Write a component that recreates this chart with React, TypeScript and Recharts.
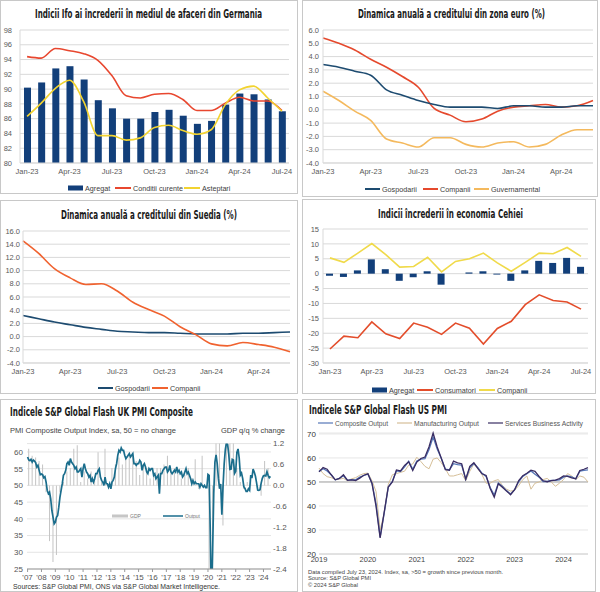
import React from 'react';
import { ComposedChart, LineChart, Line, Bar, XAxis, YAxis, CartesianGrid, ReferenceLine } from 'recharts';

// ---------- Panel 1: Ifo Germany ----------
const ifoMonths = ['Jan-23','Feb-23','Mar-23','Apr-23','May-23','Jun-23','Jul-23','Aug-23','Sep-23','Oct-23','Nov-23','Dec-23','Jan-24','Feb-24','Mar-24','Apr-24','May-24','Jun-24','Jul-24'];
const ifoAgregat = [90.2,90.9,92.8,93.1,91.3,88.5,87.4,86.0,86.0,86.9,87.2,86.4,85.3,85.7,87.9,89.4,89.3,88.6,87.0];
const ifoConditii = [94.4,94.2,95.5,95.2,94.8,93.9,91.8,89.1,88.8,89.3,89.4,88.6,87.1,87.1,88.1,88.9,88.4,88.4,87.1];
const ifoAsteptari = [86.3,88.1,90.1,91.2,88.3,83.7,83.7,83.1,83.4,84.8,85.1,84.4,83.9,84.5,87.9,89.9,90.4,88.8,87.0];

// ---------- Panel 2: Euro area credit ----------
const creditMonths = ['Jan-23','Feb-23','Mar-23','Apr-23','May-23','Jun-23','Jul-23','Aug-23','Sep-23','Oct-23','Nov-23','Dec-23','Jan-24','Feb-24','Mar-24','Apr-24','May-24','Jun-24'];
const euroGospodarii = [3.4,3.2,2.9,2.6,1.5,1.1,0.7,0.4,0.2,0.2,0.2,0.1,0.3,0.3,0.2,0.2,0.3,0.3];
const euroCompanii = [5.4,5.0,4.5,3.8,3.2,2.5,1.7,0.1,-0.4,-0.9,-0.7,-0.1,0.2,0.3,0.4,0.2,0.3,0.7];
const euroGuvernamental = [1.4,0.7,-0.1,-0.8,-2.2,-2.5,-2.8,-2.1,-2.1,-2.6,-2.8,-2.5,-2.4,-2.8,-2.6,-1.9,-1.5,-1.5];

// ---------- Panel 3: Sweden credit ----------
const seGospodarii = [3.2,2.7,2.2,1.8,1.4,1.1,0.8,0.7,0.6,0.6,0.5,0.4,0.4,0.4,0.5,0.5,0.6,0.7];
const seCompanii = [14.5,12.6,10.3,8.9,7.9,8.0,6.9,5.2,4.1,3.1,1.5,0.3,-1.1,-1.4,-0.9,-1.2,-1.6,-2.3];

// ---------- Panel 4: Czech confidence ----------
const czMonths = ['Jan-23','Feb-23','Mar-23','Apr-23','May-23','Jun-23','Jul-23','Aug-23','Sep-23','Oct-23','Nov-23','Dec-23','Jan-24','Feb-24','Mar-24','Apr-24','May-24','Jun-24','Jul-24'];
const czAgregat = [-0.7,-1.1,1.1,4.8,1.5,-2.4,-1.2,0.8,-3.7,0,0.4,0.8,-0.3,-2.4,1.1,4.3,3.6,5.3,2.3];
const czConsumatori = [-25.3,-21.0,-21.5,-16.2,-20.2,-21.8,-16.6,-18.0,-20.4,-16.6,-18.3,-23.6,-18.4,-16.0,-10.4,-7.1,-9.0,-9.5,-11.9];
const czCompanii = [5.3,3.8,6.9,10.1,6.4,2.2,2.4,5.5,0.6,4.1,5.0,6.9,3.6,0.8,3.8,6.9,6.7,8.8,5.8];

// ---------- Panel 5: UK PMI composite (monthly Jan-07..Jul-24) & GDP (quarterly) ----------
const ukYearLabels = ["'07","'08","'09","'10","'11","'12","'13","'14","'15","'16","'17","'18","'19","'20","'21","'22","'23","'24"];
const ukPmi = [
  58.5,57.6,57.4,57.8,57.0,57.6,57.3,56.8,55.5,56.0,54.5,53.2,
  53.4,53.2,52.3,52.6,51.0,48.5,47.5,48.0,46.0,42.5,40.5,38.5,
  39.0,40.5,41.0,43.5,46.5,48.5,50.5,53.0,53.5,54.5,56.5,57.0,
  56.0,58.0,57.0,56.5,56.0,55.0,55.5,54.0,54.0,54.5,55.0,52.5,
  55.0,56.5,55.0,54.0,53.5,52.5,53.0,51.0,52.0,51.0,52.0,53.5,
  53.5,54.5,55.0,52.5,51.5,51.0,50.0,52.5,50.5,50.5,49.5,50.5,
  49.0,51.0,51.5,52.5,55.0,56.5,59.0,60.5,60.0,61.2,60.5,60.5,
  59.0,58.0,58.5,59.0,59.5,58.5,59.0,59.5,56.5,56.5,56.0,56.5,
  56.5,57.5,57.0,54.5,56.0,56.5,55.5,54.0,53.5,55.0,54.5,55.0,
  55.0,53.0,53.5,52.0,52.5,53.0,47.5,53.5,53.5,54.5,55.0,55.5,
  55.5,54.0,54.5,56.0,54.0,53.5,54.0,54.5,54.0,55.5,54.0,54.5,
  53.5,54.0,52.5,53.0,54.0,55.0,53.5,54.0,53.0,52.0,50.5,51.5,
  50.5,51.0,50.5,50.5,50.5,49.5,50.5,50.0,49.5,50.0,49.3,49.3,
  53.3,53.0,36.0,13.8,30.0,47.7,57.0,59.1,56.5,52.1,49.0,50.4,
  41.2,49.6,56.4,60.7,62.9,62.2,59.2,54.8,54.9,57.8,57.6,53.6,
  54.2,59.9,60.9,58.2,53.1,53.7,52.1,49.6,49.1,48.2,48.2,49.0,
  48.5,53.1,52.2,54.9,54.0,52.8,50.8,48.6,48.5,48.7,50.7,52.1,
  52.9,53.0,52.8,54.1,53.0,52.3,52.7
];
const ukGdp = [
  1.05,0.85,0.8,0.7,
  0.6,-0.2,-1.6,-2.2,
  -2.0,-0.2,0.1,0.4,
  0.5,1.05,1.15,0.1,
  0.4,0.2,0.4,0.2,
  0.95,0.1,1.05,-0.1,
  0.5,0.6,0.8,0.6,
  0.8,0.9,0.85,0.7,
  0.3,0.6,0.5,0.2,
  0.3,0.5,0.5,0.6,
  0.85,0.4,0.5,0.4,
  0.2,0.3,0.5,0.2,
  0.75,-0.1,0.85,0.0,
  -2.6,-20.3,16.9,1.3,
  -1.15,7.1,1.7,1.5,
  0.5,0.1,-0.1,0.1,
  0.3,0.0,-0.1,-0.3,
  0.7,0.5
];

// ---------- Panel 6: US flash PMI (monthly Jan-19..Jul-24) ----------
const usYearLabels = ['2019','2020','2021','2022','2023','2024'];
const usTicks = [20, 30, 40, 50, 60, 70];
const usComposite = [
  54.4,55.5,54.6,53.0,50.9,51.5,52.6,50.7,51.0,50.9,52.0,52.7,
  53.3,49.6,40.9,27.0,37.0,47.9,50.3,54.6,54.3,56.3,58.6,55.3,
  58.7,59.5,59.7,63.5,68.7,63.7,59.9,55.4,55.0,57.6,57.2,57.0,
  51.1,55.9,57.7,56.0,53.6,52.3,47.7,44.6,49.5,48.2,46.4,45.0,
  46.8,50.1,52.3,53.4,54.6,53.2,52.0,50.2,50.2,50.7,50.7,50.9,
  52.0,52.5,52.1,51.3,54.5,54.8,55.0
];
const usManufacturing = [
  55.8,53.5,52.2,51.8,51.0,51.2,51.5,50.5,51.3,51.8,52.8,53.5,
  53.7,50.5,46.0,30.0,37.0,49.0,53.0,53.5,54.0,54.5,57.0,57.5,
  60.3,58.5,56.5,55.5,59.5,60.0,58.0,55.5,52.5,52.5,53.0,53.5,
  50.5,54.5,57.5,55.5,53.0,49.5,49.5,50.5,51.0,48.5,47.0,46.2,
  46.5,48.5,51.0,52.5,47.0,49.5,50.0,51.0,51.5,50.0,48.2,49.5,
  51.0,53.5,52.5,51.0,52.5,52.0,50.0
];
const usServices = [
  54.2,56.0,55.3,53.0,50.9,51.5,53.0,50.7,50.9,50.6,51.6,52.8,
  53.4,49.4,39.8,26.7,37.5,47.9,50.0,55.0,54.6,56.9,58.4,54.8,
  58.3,59.8,60.4,64.7,70.4,64.6,59.9,55.1,54.9,58.7,58.0,57.6,
  51.2,56.5,58.0,55.6,53.4,52.7,47.3,43.7,49.3,47.8,46.2,44.7,
  46.8,50.6,52.6,53.6,54.9,54.4,52.3,50.5,50.1,50.6,50.8,51.4,
  52.5,52.3,51.7,51.3,54.8,55.3,56.0
];

// ---------- tables ----------
const ifoData = ifoMonths.map((m, i) => ({ m, agregat: ifoAgregat[i], cond: ifoConditii[i], ast: ifoAsteptari[i] }));
const euroData = creditMonths.map((m, i) => ({ m, g: euroGospodarii[i], c: euroCompanii[i], v: euroGuvernamental[i] }));
const seData = creditMonths.map((m, i) => ({ m, g: seGospodarii[i], c: seCompanii[i] }));
const czData = czMonths.map((m, i) => ({ m, a: czAgregat[i], cons: czConsumatori[i], comp: czCompanii[i] }));
const ukData = ukPmi.map((p, i) => ({ i, pmi: p, gdp: i % 3 === 1 ? ukGdp[(i - 1) / 3] : null }));
const usData = usComposite.map((c, i) => ({ i, c, mf: usManufacturing[i], s: usServices[i] }));

const SANS = "'Liberation Sans', Arial, sans-serif";
const NARROW = "'Liberation Sans Narrow', 'DejaVu Sans Condensed', 'Arial Narrow', sans-serif";
const tickX = { fontSize: 7.5, fill: '#595959', fontFamily: SANS };
const tickUK = { fontSize: 8, fill: '#555', fontFamily: SANS };
const tickUSx = { fontSize: 7.5, fill: '#444', fontFamily: SANS };
const tickUSy = { fontSize: 8, fill: '#333', fontFamily: SANS };
const grid = '#d9d9d9';

const abs = (left: number, top: number, z = 1): React.CSSProperties => ({ position: 'absolute', left, top, zIndex: z });

function Title({ x, y, w, text }: { x: number; y: number; w: number; text: string }) {
  return (
    <text x={x} y={y} textLength={w} lengthAdjust="spacingAndGlyphs" fontFamily={NARROW} fontWeight="bold" fontSize={11.5} fill="#1a1a1a">
      {text}
    </text>
  );
}

function Lbl({ x, y, text, size = 7.2, fill = '#404040', w, anchor }: { x: number; y: number; text: string; size?: number; fill?: string; w?: number; anchor?: string }) {
  const extra: any = w ? { textLength: w, lengthAdjust: 'spacingAndGlyphs' } : {};
  return (
    <text x={x} y={y} fontFamily={SANS} fontSize={size} fill={fill} textAnchor={anchor as any} {...extra}>
      {text}
    </text>
  );
}

function LineSw({ x1, x2, y, color, w = 2 }: { x1: number; x2: number; y: number; color: string; w?: number }) {
  return <line x1={x1} x2={x2} y1={y} y2={y} stroke={color} strokeWidth={w} />;
}

export default function App() {
  return (
    <div style={{ position: 'absolute', left: 0, top: 0, width: 600, height: 592, background: '#fff', overflow: 'hidden' }}>
      <svg width={600} height={592} style={{ position: 'absolute', left: 0, top: 0, zIndex: 0, pointerEvents: 'none' }}>
        <g fill="none" stroke="#c8c8c8" strokeWidth={1}>
          <rect x={0.5} y={0.5} width={297} height={193} />
          <rect x={302.5} y={0.5} width={295} height={196} />
          <rect x={0.5} y={200.5} width={297} height={193} />
          <rect x={302.5} y={199.5} width={293} height={194} />
          <rect x={0.5} y={399.5} width={297} height={192} />
          <rect x={302.5} y={399.5} width={293} height={192} />
        </g>

        <Title x={35} y={18} w={227} text="Indicii Ifo ai încrederii în mediul de afaceri din Germania" />
        <Title x={358} y={18} w={187} text="Dinamica anuală a creditului din zona euro (%)" />
        <Title x={61} y={219} w={176} text="Dinamica anuală a creditului din Suedia (%)" />
        <Title x={378} y={218} w={145} text="Indicii încrederii în economia Cehiei" />
        <Title x={10} y={416} w={183} text="Indicele S&P Global Flash UK PMI Composite" />
        <Title x={309} y={414} w={138} text="Indicele S&P Global Flash US PMI" />

        <rect x={68} y={185.5} width={15} height={5} fill="#123f7a" />
        <Lbl x={85} y={190.6} text="Agregat" />
        <LineSw x1={115} x2={131} y={188} color="#e8472f" />
        <Lbl x={133} y={190.6} text="Conditii curente" />
        <LineSw x1={184} x2={200} y={188} color="#f2d330" />
        <Lbl x={202} y={190.6} text="Asteptari" />

        <LineSw x1={365} x2={380} y={189} color="#1d4b70" />
        <Lbl x={382} y={191.6} text="Gospodarii" />
        <LineSw x1={423} x2={438} y={189} color="#e5492d" />
        <Lbl x={440} y={191.6} text="Companii" />
        <LineSw x1={474} x2={489} y={189} color="#f4b95d" />
        <Lbl x={491} y={191.6} text="Guvernamental" />

        <LineSw x1={98} x2={113} y={388} color="#1d4b70" />
        <Lbl x={115} y={390.6} text="Gospodarii" />
        <LineSw x1={152} x2={168} y={388} color="#f0622f" />
        <Lbl x={170} y={390.6} text="Companii" />

        <rect x={372} y={387.5} width={15} height={5} fill="#123f7a" />
        <Lbl x={389} y={392.6} text="Agregat" />
        <LineSw x1={417} x2={433} y={390} color="#e34d2b" />
        <Lbl x={435} y={392.6} text="Consumatori" />
        <LineSw x1={479} x2={495} y={390} color="#f0da4a" />
        <Lbl x={497} y={392.6} text="Companii" />

        <Lbl x={10} y={432.5} text="PMI Composite Output Index, sa, 50 = no change" size={7.5} fill="#444" w={166} />
        <Lbl x={285} y={432.5} text="GDP q/q % change" size={7.5} fill="#444" anchor="end" />
        <rect x={112} y={514.5} width={16} height={3} fill="#c6c6c6" />
        <Lbl x={130} y={517.8} text="GDP" size={5} fill="#777" />
        <LineSw x1={163} x2={183} y={516} color="#1a6d8c" w={1.5} />
        <Lbl x={185} y={517.8} text="Output" size={5} fill="#777" />
        <Lbl x={13} y={588.5} text="Sources: S&P Global PMI, ONS via S&P Global Market Intelligence." size={7} fill="#333" w={207} />

        <LineSw x1={318} x2={333} y={423} color="#5677b8" w={1.2} />
        <Lbl x={335} y={425.5} text="Composite Output" size={7} fill="#555" w={53} />
        <LineSw x1={397} x2={412} y={423} color="#d6bf98" w={1.2} />
        <Lbl x={414} y={425.5} text="Manufacturing Output" size={7} fill="#555" w={65} />
        <LineSw x1={488} x2={503} y={423} color="#3a2d63" w={1.2} />
        <Lbl x={505} y={425.5} text="Services Business Activity" size={7} fill="#555" w={78} />
        <Lbl x={308} y={573.5} text="Data compiled July 23, 2024. Index, sa, >50 = growth since previous month." size={5.5} fill="#444" w={195} />
        <Lbl x={308} y={580} text="Source: S&P Global PMI" size={5.5} fill="#444" w={63} />
        <Lbl x={308} y={586.5} text="© 2024 S&P Global" size={5.5} fill="#444" w={50} />
      </svg>

      <div style={abs(0, 0)}>
        <ComposedChart width={297} height={193} data={ifoData} margin={{ top: 30, right: 8, left: 0, bottom: 0 }}>
          <CartesianGrid vertical={false} stroke={grid} />
          <XAxis dataKey="m" interval={2} tick={tickX} tickLine={false} tickSize={4} tickMargin={2} axisLine={{ stroke: grid }} height={30} />
          <YAxis domain={[80, 98]} ticks={[80, 82, 84, 86, 88, 90, 92, 94, 96, 98]} interval={0} width={20} tick={tickX} tickLine={false} tickSize={6} tickMargin={2} axisLine={{ stroke: grid }} />
          <Bar dataKey="agregat" fill="#123f7a" barSize={7} isAnimationActive={false} />
          <Line type="monotone" dataKey="cond" stroke="#e8472f" strokeWidth={1.6} dot={false} isAnimationActive={false} />
          <Line type="monotone" dataKey="ast" stroke="#f2d330" strokeWidth={1.6} dot={false} isAnimationActive={false} />
        </ComposedChart>
      </div>

      <div style={abs(300, 0)}>
        <LineChart width={300} height={197} data={euroData} margin={{ top: 30, right: 7, left: 0, bottom: 0 }}>
          <CartesianGrid vertical={false} stroke={grid} />
          <XAxis dataKey="m" interval={2} tick={tickX} tickLine={false} tickSize={4} tickMargin={2} axisLine={{ stroke: grid }} height={34} />
          <YAxis domain={[-4, 6]} ticks={[-4, -3, -2, -1, 0, 1, 2, 3, 4, 5, 6]} interval={0} tickFormatter={(v: number) => v.toFixed(1)} width={23} tick={tickX} tickLine={false} tickSize={2} tickMargin={2} axisLine={{ stroke: grid }} />
          <Line type="monotone" dataKey="v" stroke="#f4b95d" strokeWidth={1.6} dot={false} isAnimationActive={false} />
          <Line type="monotone" dataKey="c" stroke="#e5492d" strokeWidth={1.6} dot={false} isAnimationActive={false} />
          <Line type="monotone" dataKey="g" stroke="#1d4b70" strokeWidth={1.6} dot={false} isAnimationActive={false} />
        </LineChart>
      </div>

      <div style={abs(0, 200)}>
        <LineChart width={297} height={193} data={seData} margin={{ top: 31, right: 7, left: 0, bottom: 0 }}>
          <CartesianGrid vertical={false} stroke={grid} />
          <XAxis dataKey="m" interval={2} tick={tickX} tickLine={false} tickSize={4} tickMargin={2} axisLine={{ stroke: grid }} height={30} />
          <YAxis domain={[-4, 16]} ticks={[-4, -2, 0, 2, 4, 6, 8, 10, 12, 14, 16]} interval={0} tickFormatter={(v: number) => v.toFixed(1)} width={23} tick={tickX} tickLine={false} tickSize={1} tickMargin={2} axisLine={{ stroke: grid }} />
          <Line type="monotone" dataKey="g" stroke="#1d4b70" strokeWidth={1.6} dot={false} isAnimationActive={false} />
          <Line type="monotone" dataKey="c" stroke="#f0622f" strokeWidth={1.6} dot={false} isAnimationActive={false} />
        </LineChart>
      </div>

      <div style={abs(300, 200)}>
        <ComposedChart width={295} height={193} data={czData} margin={{ top: 29, right: 7, left: 0, bottom: 0 }}>
          <CartesianGrid vertical={false} stroke={grid} />
          <XAxis dataKey="m" interval={2} tick={tickX} tickLine={false} tickSize={4} tickMargin={2} axisLine={{ stroke: grid }} height={30} />
          <YAxis domain={[-30, 15]} ticks={[-30, -25, -20, -15, -10, -5, 0, 5, 10, 15]} interval={0} width={23} tick={tickX} tickLine={false} tickSize={2} tickMargin={2} axisLine={{ stroke: grid }} />
          <Bar dataKey="a" fill="#123f7a" barSize={7} isAnimationActive={false} />
          <Line type="linear" dataKey="cons" stroke="#e34d2b" strokeWidth={1.6} dot={false} isAnimationActive={false} />
          <Line type="linear" dataKey="comp" stroke="#f0da4a" strokeWidth={1.6} dot={false} isAnimationActive={false} />
        </ComposedChart>
      </div>

      <div style={abs(0, 400)}>
        <ComposedChart width={297} height={192} data={ukData} margin={{ top: 43.6, right: 0, left: 0, bottom: 0 }}>
          <CartesianGrid vertical={false} stroke="#e4e4e4" yAxisId="left" />
          <XAxis dataKey="i" interval={11} tickFormatter={(v: number) => ukYearLabels[Math.round(v / 12)] ?? ''} tick={tickUK} tickLine={{ stroke: '#999' }} tickSize={3} tickMargin={2} axisLine={{ stroke: '#999' }} height={23} />
          <YAxis yAxisId="left" orientation="left" domain={[25, 62.5]} ticks={[25, 30, 35, 40, 45, 50, 55, 60]} interval={0} allowDataOverflow width={27} tick={tickUK} tickLine={false} axisLine={false} tickSize={2} tickMargin={2} />
          <YAxis yAxisId="right" orientation="right" domain={[-2.4, 1.2]} ticks={[-2.4, -1.8, -1.2, -0.6, 0, 0.6, 1.2]} interval={0} tickFormatter={(v: number) => v.toFixed(1)} allowDataOverflow width={26} tick={tickUK} tickLine={false} axisLine={false} tickSize={0} tickMargin={2} />
          <Bar yAxisId="right" dataKey="gdp" fill="#c6c6c6" barSize={3.5} isAnimationActive={false} />
          <Line yAxisId="left" type="linear" dataKey="pmi" stroke="#1a6d8c" strokeWidth={1.7} dot={false} isAnimationActive={false} />
        </ComposedChart>
      </div>

      <div style={abs(300, 400, 2)}>
        <LineChart width={295} height={192} data={usData} margin={{ top: 33, right: 7, left: 0, bottom: 0 }}>
          <CartesianGrid vertical={false} stroke="#e6e6e6" />
          <XAxis type="number" dataKey="i" domain={[0, 66]} ticks={[0, 12, 24, 36, 48, 60]} interval={0} tickFormatter={(v: number) => usYearLabels[Math.round(v / 12)] ?? ''} tick={tickUSx} tickLine={false} tickSize={1} tickMargin={2} axisLine={{ stroke: '#d0d0d0' }} height={38} />
          <YAxis type="number" domain={[20, 70]} ticks={usTicks} interval={0} width={19} tick={tickUSy} tickLine={false} axisLine={false} tickSize={1} tickMargin={2} />
          <ReferenceLine y={50} stroke="#a6a6a6" strokeWidth={1} />
          <Line type="linear" dataKey="mf" stroke="#d6bf98" strokeWidth={1} dot={false} isAnimationActive={false} />
          <Line type="linear" dataKey="c" stroke="#5677b8" strokeWidth={1.3} dot={false} isAnimationActive={false} />
          <Line type="linear" dataKey="s" stroke="#3a2d63" strokeWidth={1.3} dot={false} isAnimationActive={false} />
        </LineChart>
      </div>
    </div>
  );
}
